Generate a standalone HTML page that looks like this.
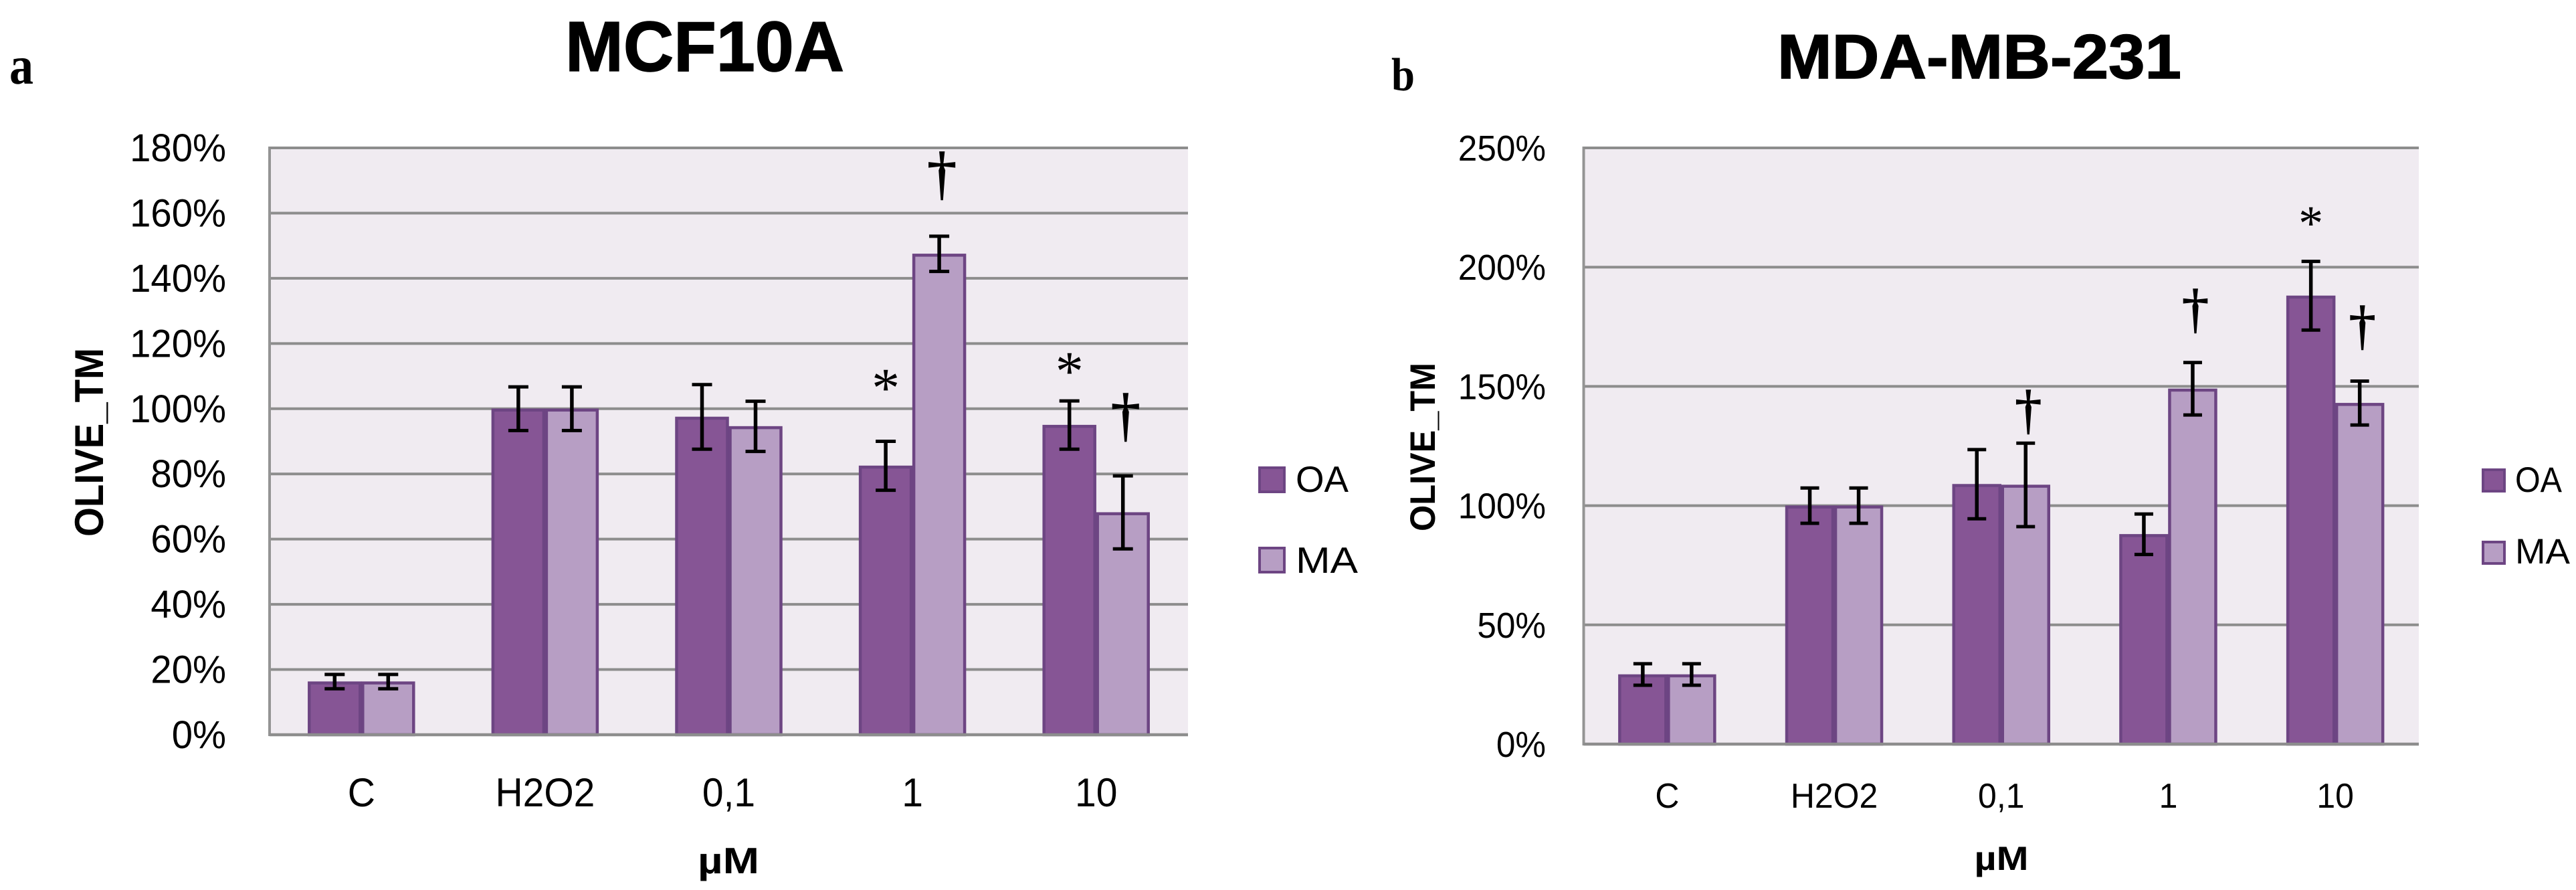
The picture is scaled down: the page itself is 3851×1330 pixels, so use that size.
<!DOCTYPE html>
<html lang="en">
<head>
<meta charset="utf-8">
<title>OLIVE_TM: MCF10A and MDA-MB-231</title>
<style>
  html, body { margin: 0; padding: 0; background: #ffffff; }
  body { width: 3851px; height: 1330px; overflow: hidden; }
  svg { display: block; }
  text { font-family: "Liberation Sans", sans-serif; fill: #000000; }
  .serif { font-family: "Liberation Serif", serif; font-weight: bold; }
  .bold { font-weight: bold; }
  .heavy { stroke: #000000; stroke-width: 1.5px; }
</style>
</head>
<body>
<svg id="figure" xmlns="http://www.w3.org/2000/svg" width="3851" height="1330" viewBox="0 0 3851 1330">
  <text class="serif" x="14" y="125" font-size="80" textLength="36" lengthAdjust="spacingAndGlyphs">a</text>
  <text class="serif" x="2080" y="135" font-size="70" textLength="35" lengthAdjust="spacingAndGlyphs">b</text>
  <text class="bold heavy" x="845" y="106" font-size="106" textLength="417" lengthAdjust="spacingAndGlyphs">MCF10A</text>
  <text class="bold heavy" x="2657" y="117" font-size="94" textLength="604" lengthAdjust="spacingAndGlyphs">MDA-MB-231</text>
  <g id="panel-a"></g>
  <g id="panel-b"></g>
</svg>
<script>
// Shared
const categories = ['C', 'H2O2', '0,1', '1', '10'];
const seriesNames = ['OA', 'MA'];

// Panel a: MCF10A
const ticksA = [0, 20, 40, 60, 80, 100, 120, 140, 160, 180];
const oaValuesA = [16.3, 100, 97.5, 82.5, 95];
const maValuesA = [16.3, 100, 94.6, 147.5, 68.2];
const oaErrorsA = [2.2, 6.7, 9.9, 7.5, 7.4];
const maErrorsA = [2.2, 6.7, 7.7, 5.4, 11.2];
const sigCategoryA = [3, 3, 4, 4];
const sigSeriesA = [1, 0, 0, 1];
const sigSymbolA = ['†', '*', '*', '†'];
const sigLevelA = [171.2, 108.8, 113.9, 97.1];

// Panel b: MDA-MB-231
const ticksB = [0, 50, 100, 150, 200, 250];
const oaValuesB = [29.2, 100, 109, 88, 188];
const maValuesB = [29.2, 100, 108.7, 149, 143];
const oaErrorsB = [4.5, 7.4, 14.5, 8.5, 14.4];
const maErrorsB = [4.5, 7.4, 17.5, 11, 9.2];
const sigCategoryB = [2, 3, 4, 4];
const sigSeriesB = [1, 1, 0, 1];
const sigSymbolB = ['†', '†', '*', '†'];
const sigLevelB = [138.9, 181.3, 221, 174.2];

const SVG_NS = 'http://www.w3.org/2000/svg';
const OA_FILL = '#865595';
const MA_FILL = '#b79ec4';
const BAR_STROKE = '#6d4583';
const GRID = '#8d8d8d';

function node(tag, parent, attrs) {
  const el = document.createElementNS(SVG_NS, tag);
  for (const k in attrs) el.setAttribute(k, attrs[k]);
  parent.appendChild(el);
  return el;
}

function scaledText(parent, x, y, str, size, anchor, sx, bold) {
  const el = node('text', parent, {
    transform: 'translate(' + x + ',' + y + ') scale(' + sx + ',1)',
    'font-size': size,
    'text-anchor': anchor
  });
  if (bold) el.setAttribute('font-weight', 'bold');
  el.textContent = str;
  return el;
}

function drawPanel(root, cfg) {
  const yOf = v => cfg.bottom - (v / cfg.yMax) * (cfg.bottom - cfg.top);
  const catW = (cfg.right - cfg.left) / categories.length;
  const catX = i => cfg.left + catW * (i + 0.5);
  const barX = (i, s) => catX(i) + (s === 0 ? -cfg.barW : 0);

  const bg = node('rect', root, { x: cfg.left, y: cfg.top, width: cfg.right - cfg.left, height: cfg.bottom - cfg.top, fill: '#f0ebf1' });
  
  

  cfg.ticks.forEach(t => {
    if (t !== 0) {
      const line = node('line', root, { x1: cfg.left, x2: cfg.right, y1: yOf(t), y2: yOf(t), stroke: GRID, 'stroke-width': 4 });
      
      
    }
    const label = scaledText(root, cfg.tickRight, yOf(t) + cfg.tickOffset, t + '%', cfg.tickSize, 'end', cfg.tickSx, false);
    
    
  });

  categories.forEach((c, i) => {
    [cfg.oa, cfg.ma].forEach((vals, s) => {
      const bar = node('rect', root, {
        x: barX(i, s) + 2,
        y: yOf(vals[i]) + 2,
        width: cfg.barW - 4,
        height: cfg.bottom - yOf(vals[i]) - 2,
        fill: s === 0 ? OA_FILL : MA_FILL,
        stroke: BAR_STROKE,
        'stroke-width': 4.5
      });
      
      
    });

    const label = scaledText(root, catX(i), cfg.catBaseline, c, cfg.catSize, 'middle', cfg.catSx, false);
    
    
  });

  const axisY = node('line', root, { x1: cfg.left, x2: cfg.left, y1: cfg.top - 2, y2: cfg.bottom + 2, stroke: '#949494', 'stroke-width': 4 });
  
  
  const axisX = node('line', root, { x1: cfg.left, x2: cfg.right, y1: cfg.bottom, y2: cfg.bottom, stroke: GRID, 'stroke-width': 4.5 });
  
  
  const topLine = node('line', root, { x1: cfg.left, x2: cfg.right, y1: cfg.top, y2: cfg.top, stroke: GRID, 'stroke-width': 4 });
  
  

  categories.forEach((c, i) => {
    [[cfg.oa, cfg.oaErr], [cfg.ma, cfg.maErr]].forEach((pair, s) => {
      const cx = barX(i, s) + cfg.barW / 2;
      const hi = yOf(pair[0][i] + pair[1][i]);
      const lo = yOf(pair[0][i] - pair[1][i]);
      const g = node('g', root, { stroke: '#000000', fill: 'none' });
      
      
      node('line', g, { x1: cx, x2: cx, y1: hi, y2: lo, 'stroke-width': 5.5 });
      node('line', g, { x1: cx - cfg.cap, x2: cx + cfg.cap, y1: hi, y2: hi, 'stroke-width': 5 });
      node('line', g, { x1: cx - cfg.cap, x2: cx + cfg.cap, y1: lo, y2: lo, 'stroke-width': 5 });
    });
  });

  cfg.sigCategory.forEach((catIndex, k) => {
    const isDagger = cfg.sigSymbol[k] === '†';
    const cx = barX(catIndex, cfg.sigSeries[k]) + cfg.barW / 2 + (isDagger ? 4 : 0);
    const cy = yOf(cfg.sigLevel[k]);
    const mark = node('text', root, {
      x: cx,
      y: cy + (isDagger ? cfg.daggerShift : cfg.starShift),
      'text-anchor': 'middle',
      'font-size': isDagger ? cfg.daggerSize : cfg.starSize
    });
    mark.setAttribute('class', 'serif');
    mark.setAttribute('style', isDagger ? 'font-weight:normal;stroke:#000;stroke-width:1.5px' : 'font-weight:normal');
    
    
    mark.textContent = cfg.sigSymbol[k];
  });

  const xTitle = node('text', root, {
    x: cfg.xTitleX,
    y: cfg.xTitleY,
    'text-anchor': 'middle',
    'font-size': cfg.xTitleSize,
    'font-weight': 'bold',
    textLength: cfg.xTitleLen,
    lengthAdjust: 'spacingAndGlyphs'
  });
  
  
  xTitle.textContent = 'µM';

  const yTitle = node('text', root, {
    transform: 'translate(' + cfg.yTitleX + ',' + cfg.yTitleY + ') rotate(-90)',
    'text-anchor': 'middle',
    'font-size': cfg.yTitleSize,
    'font-weight': 'bold',
    textLength: cfg.yTitleLen,
    lengthAdjust: 'spacingAndGlyphs'
  });
  
  
  yTitle.textContent = 'OLIVE_TM';

  seriesNames.forEach((name, s) => {
    const swatch = node('rect', root, {
      x: cfg.legendX + 2,
      y: cfg.legendY[s] + 2,
      width: cfg.legendW - 4,
      height: cfg.legendH - 4,
      fill: s === 0 ? OA_FILL : MA_FILL,
      stroke: BAR_STROKE,
      'stroke-width': 4
    });
    
    
    const text = node('text', root, {
      x: cfg.legendTextX,
      y: cfg.legendBase[s],
      'font-size': cfg.legendSize,
      textLength: cfg.legendLen[s],
      lengthAdjust: 'spacingAndGlyphs'
    });
    
    
    text.textContent = name;
  });
}

drawPanel(document.getElementById('panel-a'), {
  left: 403, right: 1776, top: 221, bottom: 1098, yMax: 180,
  ticks: ticksA, oa: oaValuesA, ma: maValuesA, oaErr: oaErrorsA, maErr: maErrorsA,
  sigCategory: sigCategoryA, sigSeries: sigSeriesA, sigSymbol: sigSymbolA, sigLevel: sigLevelA,
  barW: 80, cap: 15,
  tickRight: 338, tickOffset: 20, tickSize: 58, tickSx: 0.97,
  catBaseline: 1205, catSize: 60, catSx: 0.95,
  xTitleX: 1089, xTitleY: 1305, xTitleSize: 55, xTitleLen: 92,
  yTitleX: 154, yTitleY: 661, yTitleSize: 60, yTitleLen: 282,
  legendX: 1881, legendY: [697, 817], legendW: 41, legendH: 40,
  legendTextX: 1937, legendBase: [735, 856], legendSize: 55, legendLen: [79, 93],
  daggerSize: 88, daggerShift: 24, starSize: 84, starShift: 39.5
});

drawPanel(document.getElementById('panel-b'), {
  left: 2367.5, right: 3616, top: 221, bottom: 1112, yMax: 250,
  ticks: ticksB, oa: oaValuesB, ma: maValuesB, oaErr: oaErrorsB, maErr: maErrorsB,
  sigCategory: sigCategoryB, sigSeries: sigSeriesB, sigSymbol: sigSymbolB, sigLevel: sigLevelB,
  barW: 73, cap: 14,
  tickRight: 2311, tickOffset: 19, tickSize: 54, tickSx: 0.95,
  catBaseline: 1207, catSize: 52, catSx: 0.96,
  xTitleX: 2992, xTitleY: 1300, xTitleSize: 50, xTitleLen: 81,
  yTitleX: 2145, yTitleY: 668, yTitleSize: 53, yTitleLen: 252,
  legendX: 3710, legendY: [700, 808], legendW: 36, legendH: 36,
  legendTextX: 3760, legendBase: [735, 842], legendSize: 53, legendLen: [70, 82],
  daggerSize: 80, daggerShift: 22, starSize: 74, starShift: 34
});
</script>
</body>
</html>
